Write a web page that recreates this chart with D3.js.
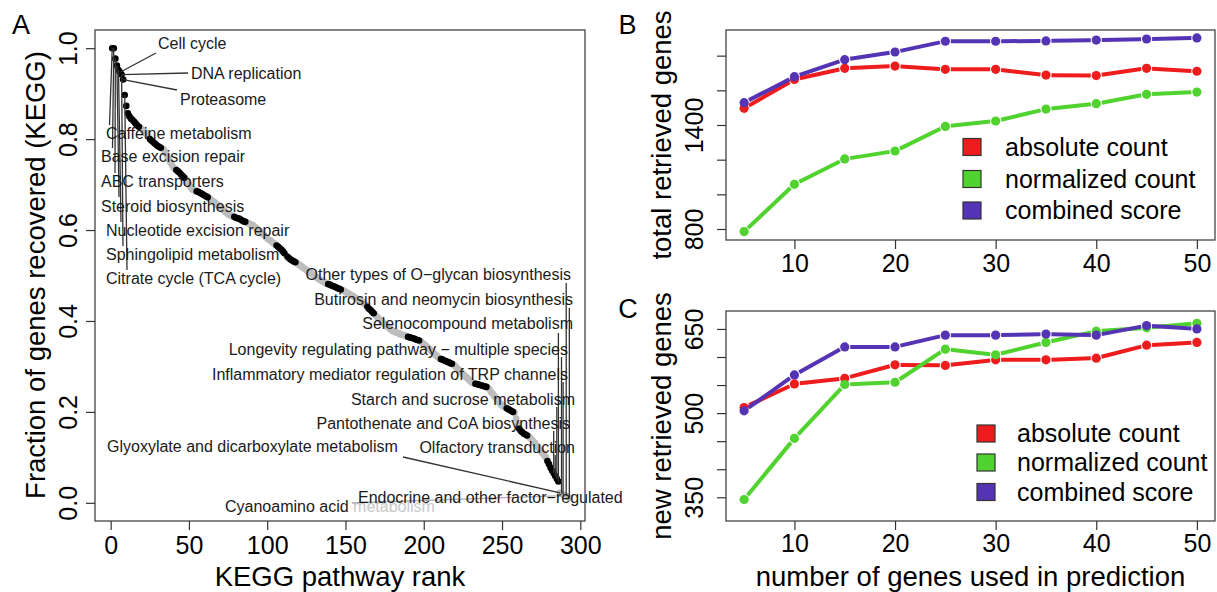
<!DOCTYPE html>
<html>
<head>
<meta charset="utf-8">
<script src="https://cdn.jsdelivr.net/npm/d3@7.9.0/dist/d3.min.js"></script>
<style>
  body { margin: 0; background: #fff; }
  svg { display: block; font-family: "Liberation Sans", Arial, sans-serif; }
</style>
</head>
<body>
<svg id="fig" width="1217" height="592"></svg>
<script>
// ---- panel A data: fraction of genes recovered per KEGG pathway, by rank ----
const keggFraction = [
  1.000, 1.000, 0.977, 0.962, 0.952, 0.947, 0.942, 0.931, 0.897, 0.873, 0.857, 0.850,
  0.845, 0.842, 0.838, 0.834, 0.830, 0.827, 0.825, 0.822,
  0.818, 0.814, 0.810, 0.806, 0.800, 0.797, 0.794, 0.791, 0.788, 0.785, 0.783, 0.781, 0.779, 0.777,
  0.770, 0.763, 0.757, 0.750, 0.744, 0.738, 0.735, 0.732, 0.729, 0.726,
  0.722, 0.719, 0.715, 0.712, 0.706, 0.700, 0.695, 0.690,
  0.688, 0.687, 0.685, 0.684, 0.682, 0.680, 0.678, 0.676, 0.674, 0.672, 0.670,
  0.667, 0.664, 0.662, 0.659, 0.656, 0.653, 0.650, 0.647, 0.644, 0.641, 0.638, 0.635,
  0.633, 0.632, 0.630, 0.629, 0.627, 0.626, 0.625, 0.623, 0.621, 0.619, 0.618, 0.616, 0.615, 0.613, 0.612, 0.610,
  0.607, 0.604, 0.601, 0.598, 0.595, 0.592, 0.589, 0.585, 0.582, 0.579, 0.577, 0.574, 0.571, 0.569, 0.566,
  0.563, 0.560, 0.557, 0.553, 0.549, 0.545, 0.541, 0.538, 0.535, 0.533, 0.531, 0.529, 0.527,
  0.525, 0.522, 0.520, 0.517, 0.515, 0.512, 0.510, 0.507, 0.505, 0.502, 0.500, 0.497, 0.495, 0.492, 0.490, 0.488, 0.486, 0.484, 0.482,
  0.481, 0.480, 0.478, 0.477, 0.475, 0.474, 0.472, 0.471, 0.469, 0.468,
  0.466, 0.464, 0.462, 0.460, 0.458, 0.456, 0.454, 0.452, 0.449, 0.447, 0.445, 0.443, 0.441, 0.438, 0.435,
  0.431, 0.427, 0.424, 0.420, 0.417, 0.413, 0.410, 0.406, 0.403, 0.400, 0.396, 0.393, 0.390, 0.387, 0.384, 0.381, 0.378,
  0.377, 0.375, 0.374, 0.373, 0.371, 0.370, 0.369, 0.368, 0.366, 0.365, 0.364, 0.363, 0.362, 0.361, 0.359, 0.358, 0.357, 0.355,
  0.352, 0.349, 0.346, 0.343, 0.340, 0.337, 0.334, 0.331, 0.327, 0.324, 0.321, 0.318,
  0.316, 0.315, 0.313, 0.312, 0.310, 0.309, 0.307, 0.306, 0.304,
  0.301, 0.297, 0.294, 0.290, 0.287, 0.283, 0.280, 0.277, 0.274, 0.270, 0.267, 0.264,
  0.263, 0.262, 0.261, 0.260, 0.259, 0.258, 0.257, 0.256, 0.255, 0.253,
  0.249, 0.244, 0.240, 0.235, 0.231, 0.227, 0.222, 0.218, 0.214,
  0.212, 0.210, 0.208, 0.206, 0.204, 0.202, 0.200, 0.198,
  0.185, 0.172, 0.163, 0.158, 0.155, 0.152, 0.150, 0.148, 0.146, 0.143,
  0.139, 0.135, 0.131, 0.127, 0.122, 0.118, 0.113, 0.109, 0.104, 0.100,
  0.092, 0.085, 0.077, 0.071, 0.065, 0.059, 0.053, 0.047,
  0.022, 0.020, 0.018, 0.016, 0.015, 0.013, 0.011
];
// rank ranges drawn in black (the rest are grey)
const blackRuns = [[1, 18], [25, 32], [42, 47], [55, 62], [79, 86], [106, 111], [113, 118], [139, 147],
  [164, 168], [190, 197], [211, 218], [233, 240], [253, 257], [261, 266], [279, 286]];

const pathwayNames = [
  'Cell cycle', 'DNA replication', 'Proteasome', 'Caffeine metabolism', 'Base excision repair',
  'ABC transporters', 'Steroid biosynthesis', 'Nucleotide excision repair', 'Sphingolipid metabolism',
  'Citrate cycle (TCA cycle)', 'Other types of O\u2212glycan biosynthesis', 'Butirosin and neomycin biosynthesis',
  'Selenocompound metabolism', 'Longevity regulating pathway \u2212 multiple species',
  'Inflammatory mediator regulation of TRP channels', 'Starch and sucrose metabolism',
  'Pantothenate and CoA biosynthesis', 'Olfactory transduction', 'Glyoxylate and dicarboxylate metabolism',
  'Endocrine and other factor\u2212regulated calcium reabsorption'
];
const pathwayRanks = [6, 7, 8, 1, 2, 3, 4, 5, 7, 9, 291, 293, 286, 288, 289, 285, 283, 284, 287, 290];

// label placement: [text x, text y, anchor, leader end x (null = vertical), leader end y]
const labelLayout = [
  [158, 43, 'start', 156, 53], [191, 73, 'start', 188, 73], [180, 99, 'start', 177, 90],
  [106, 133, 'start', 109.5, 125], [101, 156, 'start', 112.5, 148], [101, 181, 'start', 115, 173],
  [101, 206, 'start', 119, 197], [106, 230, 'start', 121, 222], [106, 254, 'start', 123, 246],
  [106, 278, 'start', 127, 270],
  [571, 274, 'end', null, 283], [573, 299, 'end', null, 308], [573, 323, 'end', null, 333],
  [568, 349, 'end', null, 357], [568, 374, 'end', null, 382], [575, 399, 'end', null, 407],
  [570, 423, 'end', null, 431], [575, 447, 'end', null, 455], [107, 446, 'start', 403, 457],
  [358, 497, 'start', 352, 503]
];

// ---- panels B and C data ----
const nGenes = [5, 10, 15, 20, 25, 30, 35, 40, 45, 50];
const seriesNames = ['absolute count', 'normalized count', 'combined score'];
const seriesColors = ['#ee1c1c', '#50d22f', '#5533b5'];

const totalAbsolute = [1496, 1663, 1727, 1740, 1721, 1721, 1688, 1685, 1727, 1710];
const totalNormalized = [785, 1058, 1204, 1250, 1392, 1423, 1492, 1523, 1577, 1590];
const totalCombined = [1529, 1679, 1777, 1821, 1883, 1883, 1885, 1890, 1896, 1902];

const newAbsolute = [510, 552, 562, 586, 585, 595, 595, 598, 621, 626];
const newNormalized = [346, 455, 551, 555, 614, 604, 626, 646, 652, 660];
const newCombined = [504, 568, 618, 618, 639, 639, 641, 639, 656, 650];

const svg = d3.select('#fig');
const FONT = '"Liberation Sans", Arial, sans-serif';

svg.append('rect').attr('width', 1217).attr('height', 592).attr('fill', '#fff');

function styleAxis(g) {
  g.select('.domain').remove();
  g.selectAll('.tick line').attr('stroke', '#333').attr('stroke-width', 1.2);
  g.selectAll('.tick text')
    .attr('fill', '#000')
    .style('font-size', '25px')
    .style('font-family', FONT);
}

function bottomAxis(g, scale, ticks, y, offset) {
  g.attr('transform', `translate(0,${y})`)
    .call(d3.axisBottom(scale).tickValues(ticks).tickSize(9).tickFormat(d3.format('d')));
  styleAxis(g);
  g.selectAll('.tick text').attr('y', offset).attr('dy', '0.35em');
}

function leftAxis(g, scale, ticks, labels, fmt, x, offset) {
  g.attr('transform', `translate(${x},0)`)
    .call(d3.axisLeft(scale).tickValues(ticks).tickSize(9)
      .tickFormat((d) => (labels.includes(d) ? fmt(d) : '')));
  styleAxis(g);
  g.selectAll('.tick text')
    .attr('x', 0).attr('y', 0).attr('dy', '0.35em')
    .attr('text-anchor', 'middle')
    .attr('transform', `translate(${-offset},0) rotate(-90)`);
}

function box(x0, y0, x1, y1) {
  svg.append('rect')
    .attr('x', x0).attr('y', y0).attr('width', x1 - x0).attr('height', y1 - y0)
    .attr('fill', 'none').attr('stroke', '#444').attr('stroke-width', 1.3);
}

function bigText(text, x, y, size, rotate) {
  svg.append('text')
    .attr('transform', `translate(${x},${y})${rotate ? ' rotate(-90)' : ''}`)
    .attr('text-anchor', 'middle').attr('dy', '0.35em')
    .style('font-size', `${size}px`).attr('fill', '#000')
    .text(text);
}

// ================= Panel A =================
const xA = d3.scaleLinear().domain([-10, 303]).range([95, 585]);
const yA = d3.scaleLinear().domain([-0.04, 1.04]).range([521, 30]);

const keggPoints = keggFraction.map((value, i) => {
  const rank = i + 1;
  const black = blackRuns.some(([a, b]) => rank >= a && rank <= b);
  return { rank, value, black };
});

const curve = svg.append('g');
curve.selectAll('circle.grey')
  .data(keggPoints.filter((d) => !d.black))
  .join('circle')
  .attr('cx', (d) => xA(d.rank)).attr('cy', (d) => yA(d.value))
  .attr('r', 3.4).attr('fill', '#bdbdbd');
curve.selectAll('circle.black')
  .data(keggPoints.filter((d) => d.black))
  .join('circle')
  .attr('cx', (d) => xA(d.rank)).attr('cy', (d) => yA(d.value))
  .attr('r', 3.3).attr('fill', '#000');

const labels = pathwayNames.map((name, i) => {
  const [tx, ty, anchor, lx, ly] = labelLayout[i];
  const rank = pathwayRanks[i];
  return {
    name, tx, ty, anchor,
    px: xA(rank), py: yA(keggFraction[rank - 1]),
    lx: lx === null ? xA(rank) : lx, ly,
    grey: i === pathwayNames.length - 1
  };
});

svg.append('defs').append('clipPath').attr('id', 'clipA')
  .append('rect').attr('x', 0).attr('y', 0).attr('width', 623).attr('height', 592);

// Cyanoamino label sits behind the Endocrine label
const cyano = svg.append('text')
  .attr('x', 225).attr('y', 506).attr('dy', '0.35em')
  .style('font-size', '16px').attr('fill', '#1a1a1a');
cyano.append('tspan').text('Cyanoamino acid ');
cyano.append('tspan').attr('fill', '#c8c8c8').text('metabolism');

svg.append('g').selectAll('line')
  .data(labels)
  .join('line')
  .attr('x1', (d) => d.px).attr('y1', (d) => d.py)
  .attr('x2', (d) => d.lx).attr('y2', (d) => d.ly)
  .attr('stroke', (d) => (d.grey ? '#b0b0b0' : '#333'))
  .attr('stroke-width', 1.3);

svg.append('g').attr('clip-path', 'url(#clipA)')
  .selectAll('text')
  .data(labels)
  .join('text')
  .attr('x', (d) => d.tx).attr('y', (d) => d.ty).attr('dy', '0.35em')
  .attr('text-anchor', (d) => d.anchor)
  .style('font-size', '16px').attr('fill', '#1a1a1a')
  .text((d) => d.name);

box(95, 30, 585, 521);
bottomAxis(svg.append('g'), xA, [0, 50, 100, 150, 200, 250, 300], 521, 24);
leftAxis(svg.append('g'), yA, [0, 0.2, 0.4, 0.6, 0.8, 1.0], [0, 0.2, 0.4, 0.6, 0.8, 1.0],
  d3.format('.1f'), 95, 27);
bigText('KEGG pathway rank', 340, 576, 27.5, false);
bigText('Fraction of genes recovered (KEGG)', 35, 275, 27.5, true);
bigText('A', 21, 25, 27, false);

// ================= Panels B and C =================
const xBC = d3.scaleLinear().domain([3.2, 51.8]).range([726, 1215]);

function linePanel(opts) {
  const y = d3.scaleLinear().domain(opts.yDomain).range([opts.bottom, opts.top]);
  const layer = svg.append('g');

  opts.series.forEach((values, s) => {
    const pts = values.map((v, i) => [xBC(nGenes[i]), y(v)]);
    const gap = 5.5;
    const segs = d3.pairs(pts).map(([a, b]) => {
      const dx = b[0] - a[0], dy = b[1] - a[1];
      const len = Math.hypot(dx, dy);
      const ux = dx / len, uy = dy / len;
      return [a[0] + ux * gap, a[1] + uy * gap, b[0] - ux * gap, b[1] - uy * gap];
    });
    const g = layer.append('g');
    g.selectAll('line').data(segs).join('line')
      .attr('x1', (d) => d[0]).attr('y1', (d) => d[1])
      .attr('x2', (d) => d[2]).attr('y2', (d) => d[3])
      .attr('stroke', seriesColors[s]).attr('stroke-width', 4);
    g.selectAll('circle').data(pts).join('circle')
      .attr('cx', (d) => d[0]).attr('cy', (d) => d[1])
      .attr('r', 4.6).attr('fill', seriesColors[s]);
  });

  box(726, opts.top, 1215, opts.bottom);
  bottomAxis(svg.append('g'), xBC, [10, 20, 30, 40, 50], opts.bottom, opts.xLabelOffset);
  leftAxis(svg.append('g'), y, opts.ticks, opts.labelTicks, d3.format('d'), 726, 31.5);

  const legend = svg.append('g').selectAll('g')
    .data(seriesNames)
    .join('g')
    .attr('transform', (_, i) => `translate(${opts.legendX},${opts.legendRows[i]})`);
  legend.append('rect')
    .attr('x', 0).attr('y', -8.5).attr('width', 18).attr('height', 17)
    .attr('fill', (_, i) => seriesColors[i]).attr('stroke', '#333').attr('stroke-width', 1.2);
  legend.append('text')
    .attr('x', opts.legendTextDx).attr('y', 0).attr('dy', '0.35em')
    .style('font-size', '25px').attr('fill', '#000')
    .text((d) => d);

  bigText(opts.yTitle, 661, (opts.top + opts.bottom) / 2, 27.5, true);
  bigText(opts.letter, opts.letterX, opts.letterY, 27, false);
}

linePanel({
  series: [totalAbsolute, totalNormalized, totalCombined],
  yDomain: [736.6, 1948], top: 30, bottom: 240,
  ticks: [800, 1000, 1200, 1400, 1600, 1800], labelTicks: [800, 1400],
  xLabelOffset: 23,
  legendX: 963, legendRows: [147, 179, 210.5], legendTextDx: 42,
  yTitle: 'total retrieved genes', letter: 'B', letterX: 627.5, letterY: 25
});

linePanel({
  series: [newAbsolute, newNormalized, newCombined],
  yDomain: [307.7, 682], top: 311, bottom: 521,
  ticks: [350, 400, 450, 500, 550, 600, 650], labelTicks: [350, 500, 650],
  xLabelOffset: 22.5,
  legendX: 977, legendRows: [433.5, 462.5, 492], legendTextDx: 40,
  yTitle: 'new retrieved genes', letter: 'C', letterX: 628, letterY: 309
});

bigText('number of genes used in prediction', 970.5, 576, 27.5, false);
</script>
</body>
</html>
